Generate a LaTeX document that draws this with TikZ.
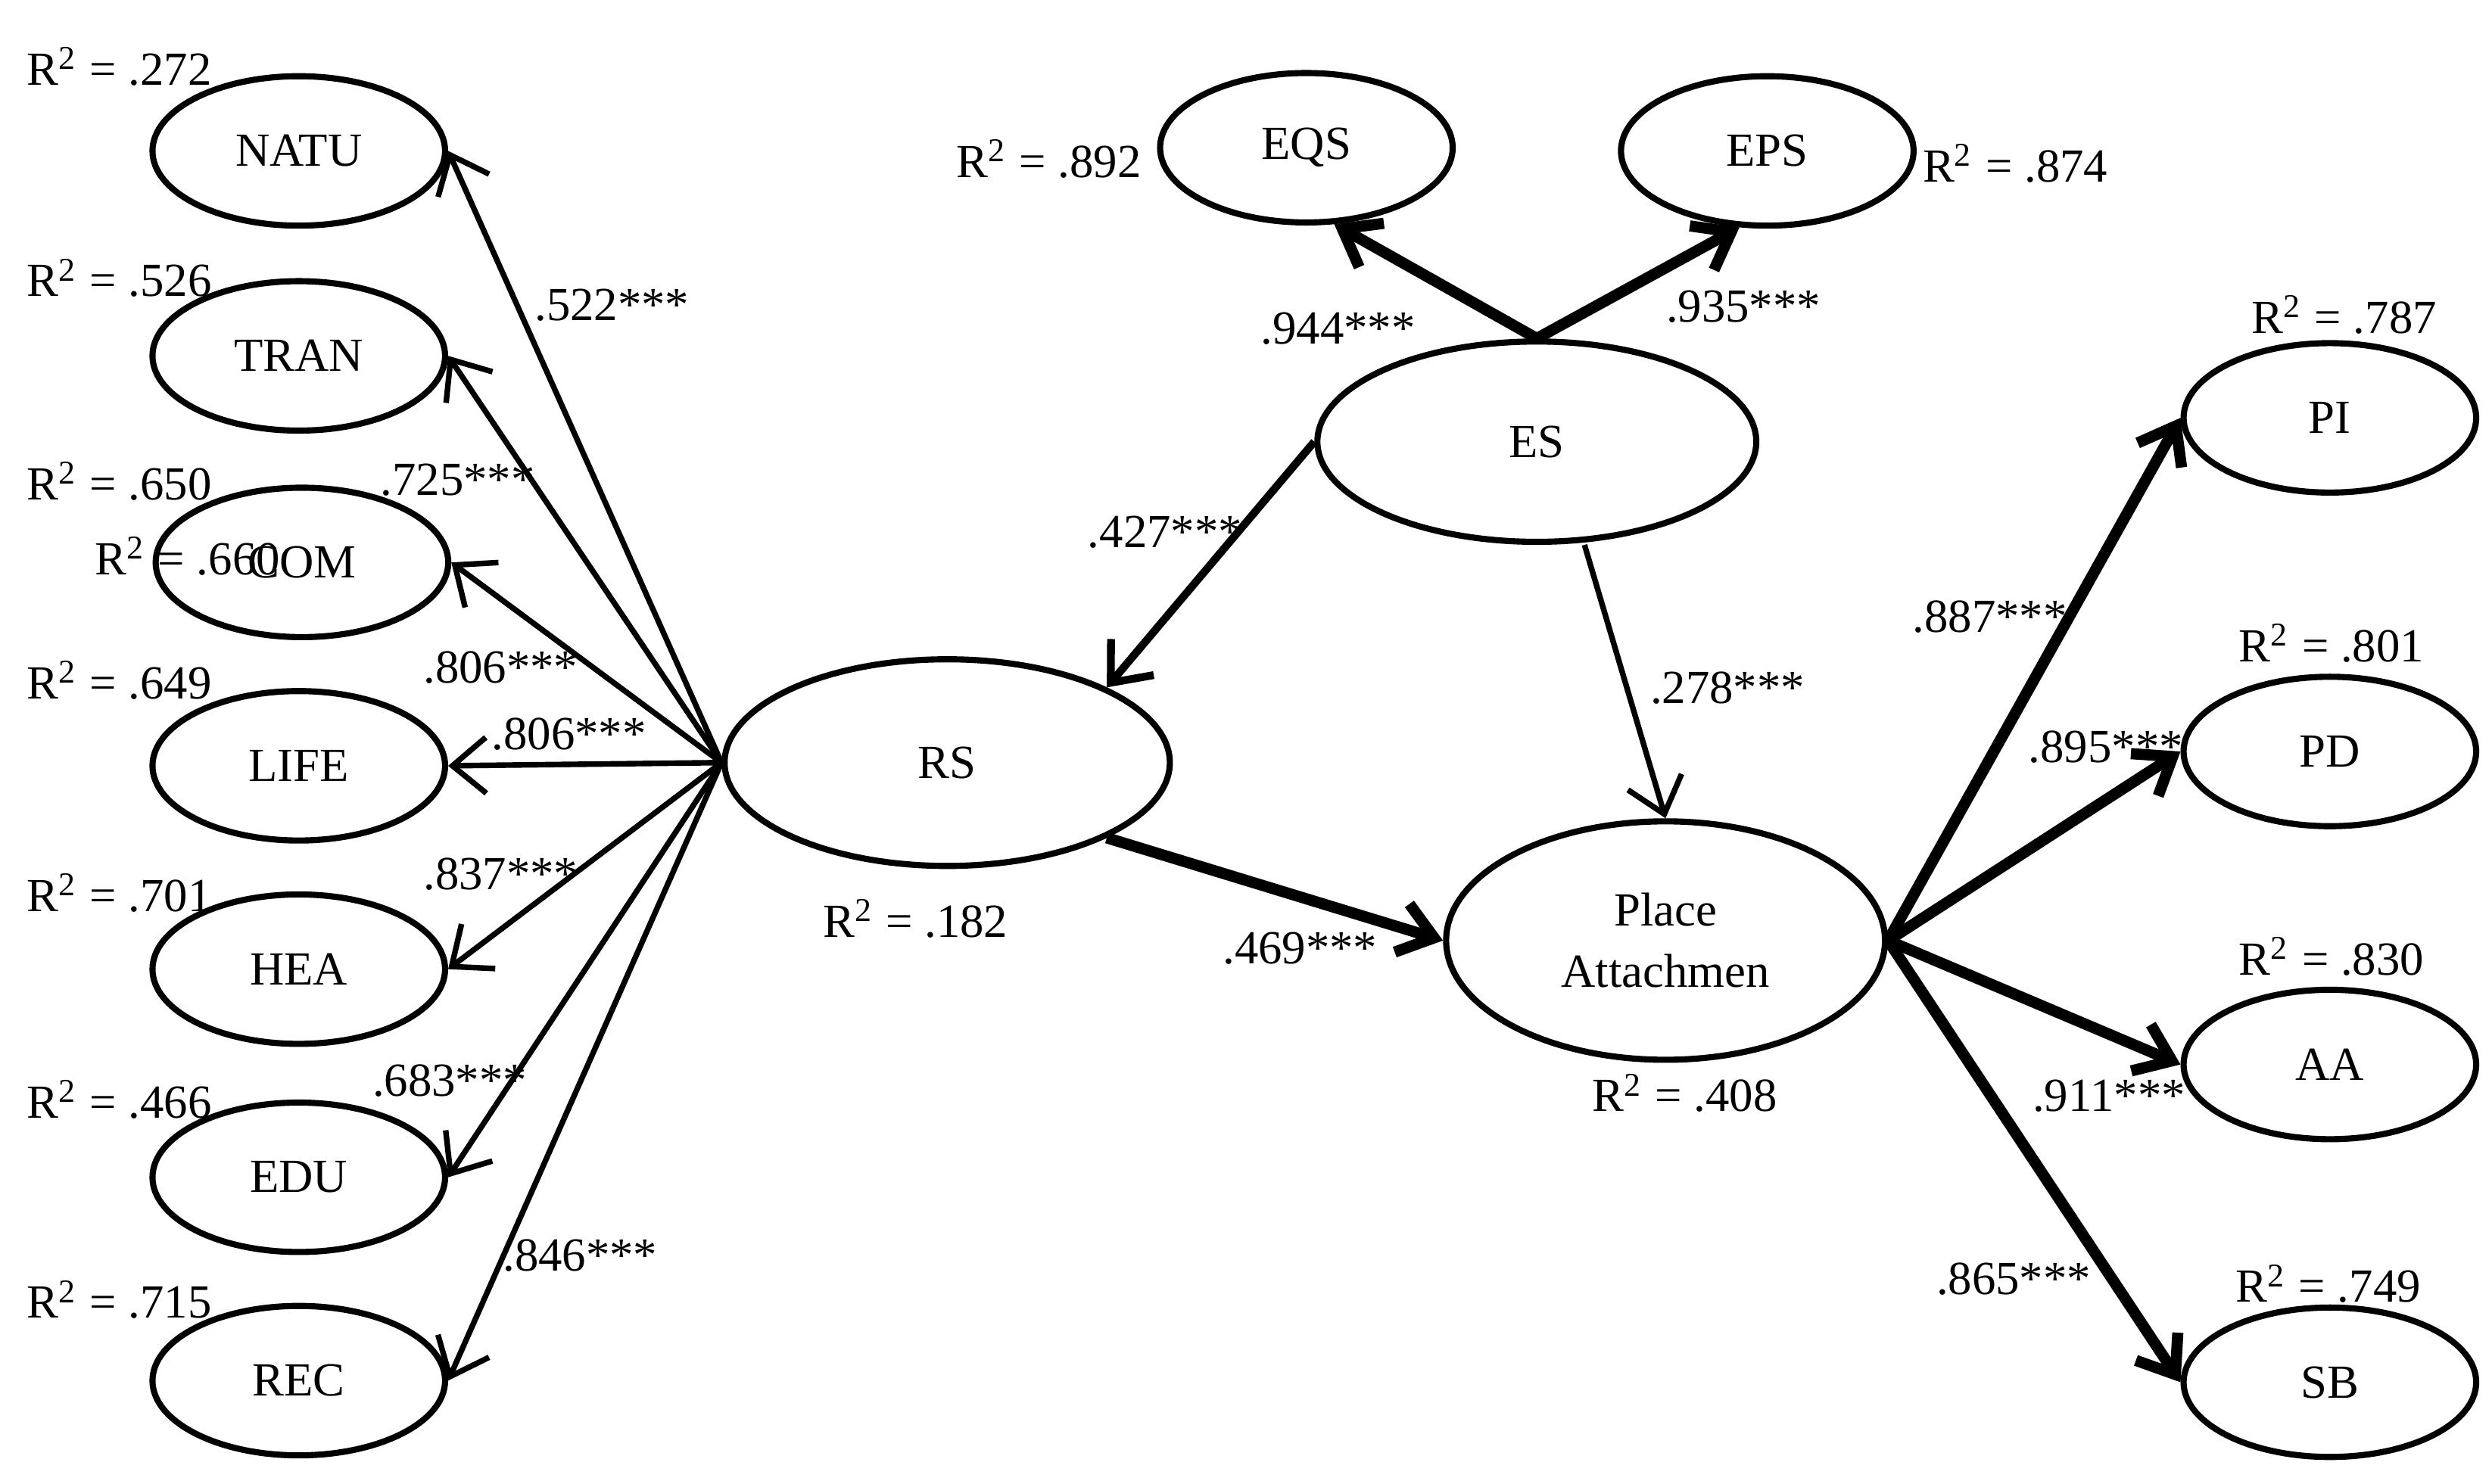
\documentclass[tikz,border=0pt]{standalone}
\usepackage{fontspec}
\setmainfont{Liberation Serif}
\usetikzlibrary{arrows.meta,shapes.geometric}
\begin{document}
\begin{tikzpicture}[x=0.01cm,y=-0.01cm,
 el/.style={ellipse,draw,line width=1.1pt,inner sep=0pt},
 sm/.style={el,minimum width=1.84cm,minimum height=0.94cm},
 t/.style={font=\fontsize{8.5}{9}\selectfont},
 lb/.style={t,inner sep=0pt},
 a1/.style={line width=1pt,-{Straight Barb[length=6pt,width=10pt,line width=1pt]}},
 a2/.style={line width=2pt,-{Straight Barb[length=6pt,width=9pt,line width=2pt]}},
 a3/.style={line width=1.4pt,-{Straight Barb[length=6pt,width=10pt,line width=1.4pt]}}]
\useasboundingbox (0,0) rectangle (1568,934);
\tikzset{every node/.append style={t}}
\node[sm] (natu) at (188,95) {NATU};
\node[sm] (tran) at (188,224) {TRAN};
\node[sm] (com) at (190,354) {COM};
\node[sm] (life) at (188,482) {LIFE};
\node[sm] (hea) at (188,610) {HEA};
\node[sm] (edu) at (188,741) {EDU};
\node[sm] (rec) at (188,869) {REC};
\node[sm] (eqs) at (822,93) {EQS};
\node[sm] (eps) at (1112,95) {EPS};
\node[sm] (pi) at (1466,263) {PI};
\node[sm] (pd) at (1466,473) {PD};
\node[sm] (aa) at (1466,670) {AA};
\node[sm] (sb) at (1466,870) {SB};
\node[el,minimum width=2.76cm,minimum height=1.26cm] (es) at (967,278) {ES};
\node[el,minimum width=2.8cm,minimum height=1.3cm] (rs) at (596,480) {RS};
\node[el,minimum width=2.76cm,minimum height=1.5cm,align=center] (pa) at (1048,592) {Place\\[2pt]Attachmen};
\coordinate (rsw) at (rs.west);
\coordinate (pae) at (pa.east);
\foreach \n in {natu,tran,com,life,hea,edu,rec} \draw[a1] (rsw) -- (\n.east);
\draw[a2] (es.north) -- (eqs.-70);
\draw[a2] (es.north) -- (eps.-110);
\draw[a3] (es.west) -- (rs.north east);
\draw[a1] (es.south) ++(30,0) coordinate (esb) (esb) -- (pa.north);
\draw[a2] (rs.south east) -- (pa.west);
\foreach \n in {pi,pd,aa,sb} \draw[a2] (pae) -- (\n.west);
% path labels
\node[lb] at (385,192) {.522***};
\node[lb] at (288,302) {.725***};
\node[lb] at (315,420) {.806***};
\node[lb] at (358,462) {.806***};
\node[lb] at (315,550) {.837***};
\node[lb] at (283,680) {.683***};
\node[lb] at (365,790) {.846***};
\node[lb] at (842,207) {.944***};
\node[lb] at (1097,193) {.935***};
\node[lb] at (733,335) {.427***};
\node[lb] at (1087,433) {.278***};
\node[lb] at (818,597) {.469***};
\node[lb] at (1252,388) {.887***};
\node[lb] at (1325,470) {.895***};
\node[lb] at (1327,690) {.911***};
\node[lb] at (1267,805) {.865***};
% R2 labels
\newcommand\rsq{R\textsuperscript{2}}
\node[lb] at (75,42) {\rsq{} = .272};
\node[lb] at (75,175) {\rsq{} = .526};
\node[lb] at (75,303) {\rsq{} = .650};
\node[lb] at (118,350) {\rsq{} = .660};
\node[lb] at (75,428) {\rsq{} = .649};
\node[lb] at (75,562) {\rsq{} = .701};
\node[lb] at (75,692) {\rsq{} = .466};
\node[lb] at (75,818) {\rsq{} = .715};
\node[lb] at (660,100) {\rsq{} = .892};
\node[lb] at (1268,103) {\rsq{} = .874};
\node[lb] at (576,578) {\rsq{} = .182};
\node[lb] at (1060,688) {\rsq{} = .408};
\node[lb] at (1475,198) {\rsq{} = .787};
\node[lb] at (1467,405) {\rsq{} = .801};
\node[lb] at (1467,602) {\rsq{} = .830};
\node[lb] at (1465,808) {\rsq{} = .749};
\end{tikzpicture}
\end{document}
